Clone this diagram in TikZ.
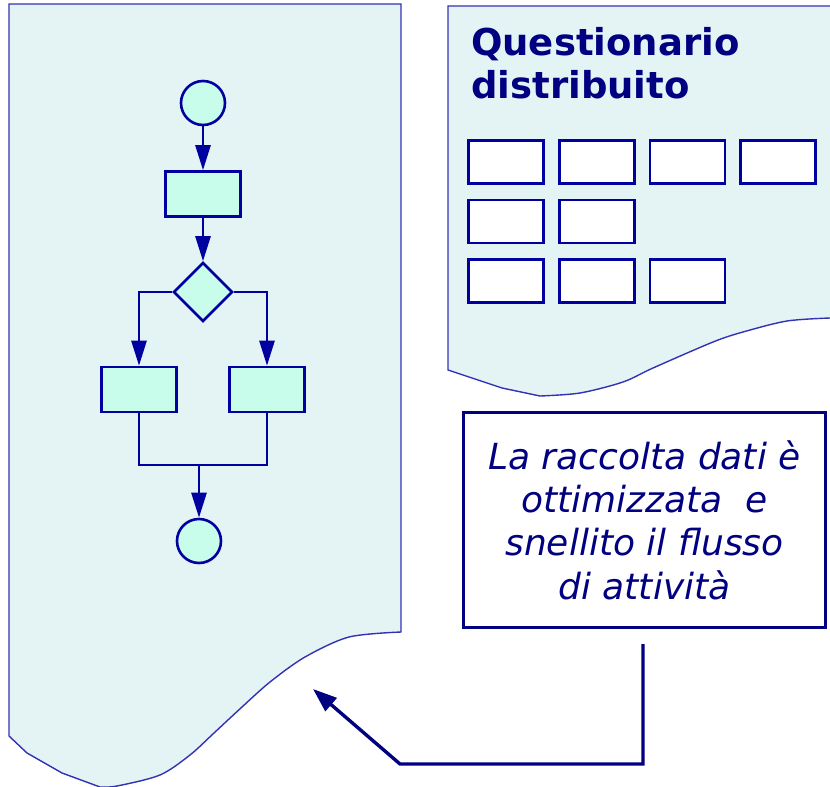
\documentclass[tikz,border=0pt]{standalone}
\usepackage{fontspec}
\setmainfont{DejaVu Sans}
\usetikzlibrary{arrows.meta,shapes.geometric}
\definecolor{docfill}{RGB}{228,243,244}
\definecolor{docline}{RGB}{50,50,180}
\definecolor{flowfill}{RGB}{200,253,236}
\definecolor{flowline}{RGB}{0,0,160}
\definecolor{navy}{RGB}{0,0,128}
\tikzset{
  doc/.style={fill=docfill,draw=docline,line width=1.4pt},
  flowstate/.style={circle,draw=flowline,fill=flowfill,line width=2.6pt,minimum size=44pt,inner sep=0pt},
  flowact/.style={rectangle,draw=flowline,fill=flowfill,line width=2.6pt,minimum width=75pt,minimum height=45pt,inner sep=0pt},
  flowdec/.style={diamond,draw=flowline,fill=flowfill,line width=2.6pt,minimum width=59pt,minimum height=59pt,inner sep=0pt},
  field/.style={rectangle,draw=flowline,fill=white,line width=2.6pt,minimum width=75pt,minimum height=43pt,inner sep=0pt},
  flowlink/.style={draw=flowline,line width=2.6pt},
  flowarrow/.style={flowlink,-{Triangle[length=25pt,width=15pt]}},
  note/.style={rectangle,draw=navy,line width=2.6pt,fill=white,minimum width=362pt,minimum height=215pt,inner sep=0pt,align=center,text=navy,font=\fontsize{36}{43.3}\selectfont\itshape},
  titletext/.style={anchor=base west,inner sep=0pt,text=navy,font=\fontsize{37}{43}\selectfont\bfseries},
  callout/.style={draw=navy,line width=3.4pt,-{Triangle[length=24pt,width=17pt]}}
}
\begin{document}
\begin{tikzpicture}[x=1pt,y=-1pt]
\useasboundingbox (0,0) rectangle (830,787);
% left document
\filldraw[doc] (9,4) -- (401,4) -- (401,632) -- plot[smooth,tension=0.5] coordinates {(401,632) (349,637) (305,657) (270,682) (242,707) (214,733) (190,755) (160,775) (117,786) (100,787)} -- (62,773) -- (27,753) -- (9,736) -- cycle;
% right document
\begin{scope}
\clip (0,0) rectangle (830,787);
\filldraw[doc] (448,6) -- (845,6) -- (845,318) -- (830,318) -- plot[smooth,tension=0.5] coordinates {(830,318) (787,321) (743,332) (713,342) (653,368) (623,382) (580,393) (540,396)} -- (502,388) -- (448,370) -- cycle;
\end{scope}
% flowchart
\node[flowstate] (start) at (203,103) {};
\node[flowact] (act1) at (203,194) {};
\node[flowdec] (dec) at (203,292) {};
\node[flowact] (actL) at (139,389.5) {};
\node[flowact] (actR) at (267,389.5) {};
\coordinate (merge) at (199,465);
\node[flowstate] (end) at (199,541) {};
\draw[flowarrow] (start) -- (act1);
\draw[flowarrow] (act1) -- (dec);
\draw[flowarrow] (dec.west) -| (actL.north);
\draw[flowarrow] (dec.east) -| (actR.north);
\draw[flowlink] (actL.south) |- (merge) -| (actR.south);
\draw[flowarrow] (merge) -- (end);
% questionnaire
\node[titletext] (title1) at (471,55) {Questionario};
\node[titletext] (title2) at (471,98) {distribuito};
\node[field] (f11) at (506,162) {};
\node[field] (f12) at (597,162) {};
\node[field] (f13) at (687.5,162) {};
\node[field] (f14) at (778,162) {};
\node[field] (f21) at (506,221.5) {};
\node[field] (f22) at (597,221.5) {};
\node[field] (f31) at (506,281) {};
\node[field] (f32) at (597,281) {};
\node[field] (f33) at (687.5,281) {};
% note
\node[note] (note) at (644.5,520) {La raccolta dati è\\ottimizzata\ \ e\\snellito il flusso\\di attività};
\coordinate (c0) at (643,644);
\coordinate (c1) at (643,764);
\coordinate (c2) at (400,764);
\coordinate (target) at (313,689);
\draw[callout] (c0) -- (c1) -- (c2) -- (target);
\end{tikzpicture}
\end{document}
